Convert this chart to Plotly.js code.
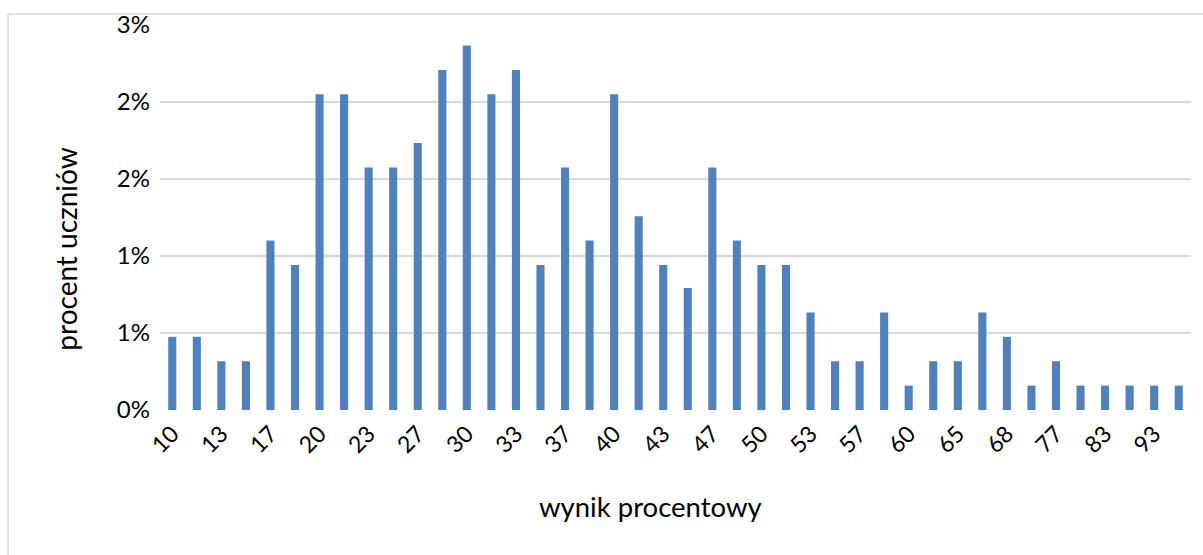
<!DOCTYPE html>
<html>
<head>
<meta charset="utf-8">
<script src="https://cdn.plot.ly/plotly-3.0.1.min.js"></script>
<style>
html,body{margin:0;padding:0;background:#fff;}
#chart{width:1203px;height:555px;}
</style>
</head>
<body>
<div id="chart"></div>
<script>
// score categories (percent result); every other one is labelled on the axis
const scores = ["10","12","13","15","17","18","20","22","23","25","27","28","30","32","33","35","37","38","40","42","43","45","47","48","50","52","53","55","57","58","60","62","65","67","68","72","77","80","83","88","93","97"];
// share of students (%)
const shares = [0.57,0.57,0.38,0.38,1.32,1.13,2.46,2.46,1.89,1.89,2.08,2.65,2.84,2.46,2.65,1.13,1.89,1.32,2.46,1.51,1.13,0.95,1.89,1.32,1.13,1.13,0.76,0.38,0.38,0.76,0.19,0.38,0.38,0.76,0.57,0.19,0.38,0.19,0.19,0.19,0.19,0.19];
// axis tick labels
const xTickVals = ["10","13","17","20","23","27","30","33","37","40","43","47","50","53","57","60","65","68","77","83","93"];
const yTickVals = [0,0.6,1.2,1.8,2.4,3.0];
const yTickText = ["0%","1%","1%","2%","2%","3%"];
const xTitle = "wynik procentowy";
const yTitle = "procent uczniów";

const font = "Lato, 'Open Sans', sans-serif";

const trace = {
  type: "bar",
  x: scores,
  y: shares,
  marker: {color: "#4f81bd"},
  hoverinfo: "x+y"
};

const layout = {
  width: 1203, height: 555,
  margin: {l: 160, r: 12, t: 25, b: 144.5, pad: 0},
  paper_bgcolor: "#ffffff",
  plot_bgcolor: "#ffffff",
  showlegend: false,
  bargap: 0.67,
  font: {family: font, color: "#000000"},
  xaxis: {
    type: "category",
    categoryorder: "array",
    categoryarray: scores,
    tickmode: "array",
    tickvals: xTickVals,
    ticktext: xTickVals,
    tickangle: -45,
    tickfont: {family: font, size: 23, color: "#000"},
    showgrid: false,
    showline: false,
    zeroline: false,
    ticks: "",
    ticklabelstandoff: 5
  },
  yaxis: {
    range: [0, 3.0],
    tickmode: "array",
    tickvals: yTickVals,
    ticktext: yTickText,
    tickfont: {family: font, size: 24, color: "#000"},
    showgrid: true,
    gridcolor: "#d9d9d9",
    gridwidth: 1.6,
    zeroline: false,
    showline: false,
    ticks: "",
    ticklabelstandoff: 9,
    fixedrange: true
  },
  annotations: [
    {text: xTitle, xref: "paper", yref: "paper", x: 0.476, y: -0.25, xanchor: "center", yanchor: "middle",
     showarrow: false, font: {family: font, size: 27.5, color: "#000"}},
    {text: yTitle, xref: "paper", yref: "paper", x: -0.0912, y: 0.419, xanchor: "center", yanchor: "middle",
     textangle: -90, showarrow: false, font: {family: font, size: 28, color: "#000"}}
  ],
  shapes: [
    {type: "line", xref: "paper", yref: "paper", x0: -0.1474, x1: 1.02, y0: 1.0285, y1: 1.0285,
     line: {color: "#d9d9d9", width: 1.6}, layer: "below"},
    {type: "line", xref: "paper", yref: "paper", x0: -0.1474, x1: -0.1474, y0: 1.0285, y1: -0.4,
     line: {color: "#d9d9d9", width: 1.6}, layer: "below"}
  ]
};

Plotly.newPlot("chart", [trace], layout, {displayModeBar: false, staticPlot: true});
</script>
</body>
</html>
